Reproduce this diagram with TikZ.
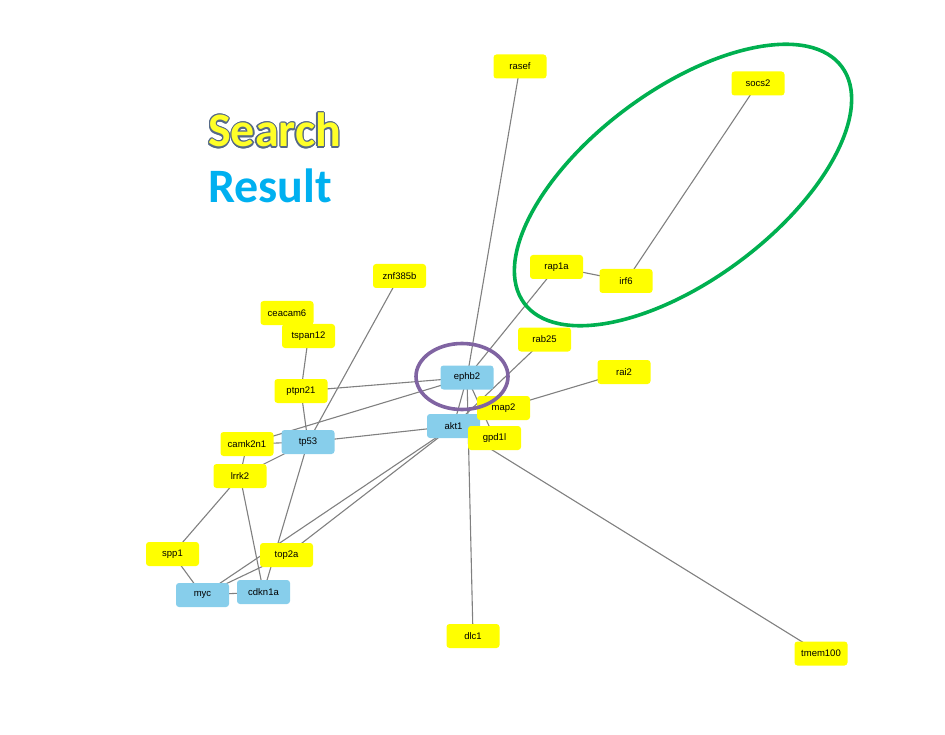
\documentclass[tikz,border=0pt]{standalone}
\usepackage{fontspec}
\setmainfont{Liberation Sans}
\newfontfamily\titlefont{Carlito}
\usetikzlibrary{backgrounds}
\definecolor{ynode}{RGB}{255,255,0}
\definecolor{bnode}{RGB}{135,206,235}
\definecolor{edgec}{RGB}{128,128,128}
\definecolor{purp}{RGB}{128,100,162}
\definecolor{grn}{RGB}{0,176,80}
\definecolor{outc}{RGB}{85,105,135}
\definecolor{resc}{RGB}{0,176,240}
\definecolor{srchc}{RGB}{255,255,40}
\tikzset{
  gbox/.style={draw=none, rounded corners=3pt, minimum width=53pt, minimum height=24pt,
    inner sep=0pt, font=\fontsize{9.5}{11}\selectfont, text=black},
  ybox/.style={gbox, fill=ynode},
  bbox/.style={gbox, fill=bnode},
  link/.style={draw=edgec, line width=1.1pt},
}
\begin{document}
\begin{tikzpicture}[x=1pt,y=-1pt]
\useasboundingbox (0,0) rectangle (945,735);
% title
\foreach \a in {0,30,...,330}{
  \node[anchor=base west, inner sep=0pt, text=outc, font=\titlefont\bfseries\fontsize{48}{50}\selectfont,
        xshift={1.2*cos(\a)}, yshift={1.2*sin(\a)}] at (208,147) {Search};
}
\node[anchor=base west, inner sep=0pt, text=srchc, font=\titlefont\bfseries\fontsize{48}{50}\selectfont] (search) at (208,147) {Search};
\node[anchor=base west, inner sep=0pt, text=resc, font=\titlefont\bfseries\fontsize{48}{50}\selectfont] (result) at (208,203) {Result};
% nodes
\node[ybox] (rasef) at (520,66.5) {rasef};
\node[ybox] (socs2) at (758,83.5) {socs2};
\node[ybox] (znf385b) at (399.5,276) {znf385b};
\node[ybox] (ceacam6) at (287,313) {ceacam6};
\node[ybox] (tspan12) at (308.5,336) {tspan12};
\node[ybox] (ptpn21) at (301,391) {ptpn21};
\node[ybox] (rap1a) at (556.5,267) {rap1a};
\node[ybox] (irf6) at (626,281) {irf6};
\node[ybox] (rab25) at (544.5,339.5) {rab25};
\node[ybox] (rai2) at (624,372) {rai2};
\node[bbox] (ephb2) at (467,377.5) {ephb2};
\node[bbox] (akt1) at (453.5,426) {akt1};
\node[ybox] (map2) at (503.5,408) {map2};
\node[ybox] (gpd1l) at (494.5,438) {gpd1l};
\node[ybox] (camk2n1) at (247,444) {camk2n1};
\node[bbox] (tp53) at (308,442) {tp53};
\node[ybox] (lrrk2) at (240,476) {lrrk2};
\node[ybox] (spp1) at (172.5,554) {spp1};
\node[ybox] (top2a) at (286.5,555) {top2a};
\node[bbox] (myc) at (202.5,595) {myc};
\node[bbox] (cdkn1a) at (263.5,592) {cdkn1a};
\node[ybox] (dlc1) at (473,636) {dlc1};
\node[ybox] (tmem100) at (821,653.5) {tmem100};
% edges
\begin{scope}[on background layer]
\foreach \u/\v in {rasef/ephb2, socs2/irf6, rap1a/irf6, rap1a/ephb2, rab25/akt1, rai2/map2,
  ptpn21/ephb2, camk2n1/ephb2, camk2n1/tp53, lrrk2/tp53, lrrk2/camk2n1, lrrk2/spp1,
  lrrk2/cdkn1a, spp1/myc, myc/cdkn1a, myc/top2a, myc/akt1, top2a/akt1, tp53/cdkn1a,
  tp53/akt1, tspan12/ptpn21, ptpn21/tp53, znf385b/tp53, ephb2/akt1, ephb2/dlc1,
  ephb2/gpd1l, akt1/tmem100}{
  \draw[link] (\u.center) -- (\v.center);
}
\end{scope}
% ellipses
\draw[purp, line width=3.6pt] (462,376.5) ellipse (46 and 33);
\draw[grn, line width=3.6pt, rotate around={36.7:(683,185)}] (683,185) ellipse (198 and 95);
\end{tikzpicture}
\end{document}
